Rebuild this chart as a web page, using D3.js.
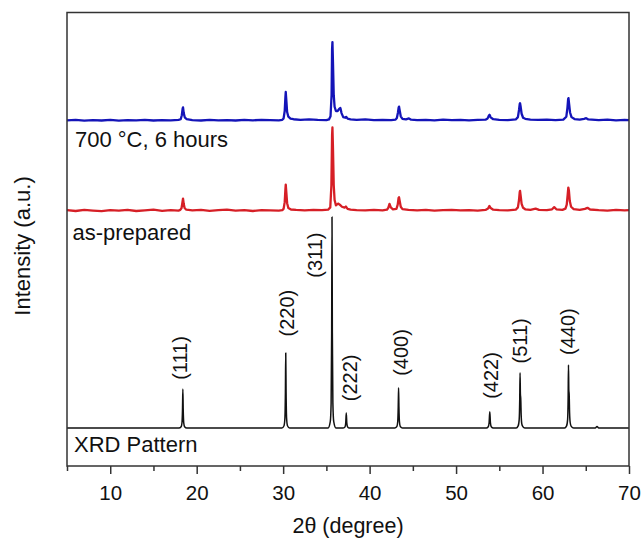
<!DOCTYPE html>
<html><head><meta charset="utf-8">
<script src="https://cdn.jsdelivr.net/npm/d3@7"></script>
<style>body{margin:0;background:#fff}text{font-family:"Liberation Sans",Arial,sans-serif;fill:#111}</style>
</head><body>
<svg id="c" width="641" height="538"></svg>
<script>
// ---- data (2θ in degree, intensity in relative units above each trace's own baseline) ----
const seriesNames = ["XRD Pattern", "as-prepared", "700 °C, 6 hours"];
const seriesColors = ["#111111", "#d61f26", "#1414b8"];
const offsets = [0, 103.1, 145.8];

const xrdPattern = [
 [5,0],[17.95,0],
 [18.2,0.6],[18.3,2.5],[18.36,9],[18.4,18.5],[18.44,9],[18.5,2.5],[18.6,0.6],[18.85,0],
 [29.85,0],
 [30.1,1.1],[30.2,4.5],[30.26,17],[30.3,35.6],[30.34,17],[30.4,4.5],[30.5,1.1],[30.75,0],
 [35.2,0],
 [35.45,3],[35.55,12],[35.61,45],[35.65,100],[35.69,45],[35.75,12],[35.85,3],[36.1,0],
 [36.9,0],
 [37.15,0.5],[37.24,2.5],[37.3,7.1],[37.36,2.5],[37.45,0.5],[37.6,0],
 [42.9,0],
 [43.15,0.7],[43.25,3],[43.31,10],[43.35,19.1],[43.39,10],[43.45,3],[43.55,0.7],[43.8,0],
 [53.5,0],
 [53.72,0.6],[53.82,2.5],[53.9,7.7],[53.97,2.6],[54.07,0.6],[54.3,0],
 [56.95,0],
 [57.18,1],[57.3,4],[57.36,13],[57.4,26.2],[57.44,16],[57.48,14],[57.53,6],[57.6,2],[57.72,0.7],[57.95,0],
 [62.55,0],
 [62.78,1],[62.9,4],[62.96,14],[63.0,29.9],[63.04,18],[63.08,16],[63.13,7],[63.2,2.5],[63.32,0.8],[63.6,0],
 [66.1,0],[66.3,0.7],[66.5,0],[70,0]
];

const asPrepared = [
 [5,0.2],[6,-0.2],[7,0.3],[8,0],[9,-0.3],[10,0.2],[11,0],[12,0.3],[13,-0.2],[14,0.1],[15,0.4],[16,-0.1],[17,0.2],[17.9,0],
 [18.1,0.3],[18.25,1.2],[18.35,3.8],[18.42,5.7],[18.5,3.2],[18.6,1.2],[18.8,0.4],
 [19.5,0.1],[20.5,0.3],[21.5,-0.1],[22.5,0.2],[23.5,0.4],[24.5,0],[25.5,0.2],[26.5,-0.2],[27.5,0.2],[28.5,0.1],[29.5,0],[29.9,0.2],
 [30.05,0.8],[30.18,4],[30.26,10],[30.3,12.3],[30.36,9],[30.46,3.5],[30.6,1.2],[30.9,0.5],
 [31.5,0.3],[32.5,0.1],[33.5,0.3],[34.5,0.2],[35.2,0.4],
 [35.45,1.5],[35.58,12],[35.66,36],[35.7,39.4],[35.76,30],[35.85,12],[35.95,5],[36.1,2.5],[36.35,3.3],[36.55,2.8],[36.8,1.8],[37.1,1.4],[37.25,1.9],[37.45,0.8],[37.8,0.4],
 [38.5,0.2],[39.5,0.1],[40.5,0.3],[41.5,0.1],[42.0,0.4],
 [42.15,1.2],[42.3,3.2],[42.45,1.5],[42.7,0.6],
 [43.1,0.8],[43.25,2.8],[43.35,6.0],[43.4,6.3],[43.48,4.5],[43.6,1.8],[43.8,0.7],
 [44.5,0.3],[45.5,0.1],[46.5,0.3],[47.5,0],[48.5,0.2],[49.5,0.3],[50.5,0.1],[51.5,0.2],[52.5,0],[53.4,0.3],
 [53.7,1.0],[53.85,2.2],[54.0,1.2],[54.3,0.4],
 [55,0.2],[56,0.1],[56.9,0.4],
 [57.15,1.5],[57.28,5],[57.36,8.8],[57.4,9.3],[57.47,7],[57.58,3.2],[57.75,1.3],[58.0,0.6],
 [58.6,0.3],[59.2,0.9],[59.6,0.3],[60.5,0.2],[61.1,0.6],[61.35,1.6],[61.6,0.6],[62.3,0.3],[62.65,0.9],
 [62.8,2.8],[62.92,8],[62.98,10.9],[63.05,9.5],[63.15,4.5],[63.3,1.8],[63.6,0.7],
 [64.3,0.3],[64.9,0.8],[65.2,1.3],[65.5,0.5],[66.5,0.2],[67.5,0],[68.5,0.3],[69.5,0.1],[70,0.2]
];

const annealed700 = [
 [5,0.1],[6,0.3],[7,-0.1],[8,0.2],[9,0],[10,0.3],[11,-0.1],[12,0.2],[13,0.1],[14,0.3],[15,0],[16,0.2],[17,0.1],[17.9,0.3],
 [18.15,0.6],[18.28,2.5],[18.37,5.5],[18.42,6.2],[18.5,3.5],[18.62,1.5],[18.85,0.6],
 [19.5,0.2],[20.5,0],[21.5,0.3],[22.5,0.1],[23.5,0.2],[24.5,0],[25.5,0.3],[26.5,0.1],[27.5,0.3],[28.5,0.2],[29.5,0.1],[29.9,0.3],
 [30.05,1],[30.18,4.5],[30.26,11],[30.3,13.5],[30.36,10],[30.46,4],[30.6,1.8],[30.85,0.9],[31.2,0.6],
 [32,0.3],[33,0.5],[34,0.3],[35,0.2],[35.3,0.5],
 [35.48,2],[35.6,12],[35.66,34],[35.7,37.2],[35.76,28],[35.85,12],[35.95,6.5],[36.1,4.5],[36.3,4.5],[36.5,5.6],[36.62,5.9],[36.75,3.5],[36.95,1.6],[37.2,1.3],[37.3,1.7],[37.45,0.9],[37.8,0.5],
 [38.5,0.3],[39.5,0.5],[40.5,0.2],[41.5,0.3],[42.5,0.2],[43.0,0.4],
 [43.15,1.2],[43.28,3.8],[43.36,6.2],[43.4,6.6],[43.48,4.8],[43.6,2],[43.8,0.8],[44.2,0.5],[44.55,1.0],[44.8,0.4],
 [45.5,0.2],[46.5,0.3],[47.5,0.1],[48.5,0.4],[49.5,0.2],[50.5,0.3],[51.5,0.1],[52.5,0.3],[53.4,0.4],
 [53.65,1.0],[53.8,2.4],[53.87,2.7],[54.0,1.5],[54.3,0.6],
 [55,0.3],[56,0.2],[56.9,0.5],
 [57.15,1.6],[57.28,5],[57.36,7.8],[57.4,8.2],[57.47,6.5],[57.58,3.2],[57.75,1.3],[58.0,0.8],
 [58.6,0.4],[59.5,0.3],[60.5,0.4],[61.5,0.2],[62.4,0.4],
 [62.75,1.8],[62.88,6],[62.96,10.2],[63.0,10.6],[63.07,8],[63.18,3.8],[63.35,1.6],[63.7,0.7],
 [64.3,0.4],[64.8,0.8],[65.05,1.1],[65.3,0.5],[66.5,0.2],[67.5,0.4],[68.5,0.1],[69.5,0.3],[70,0.2]
];

const hklLabels = ["(111)","(220)","(311)","(222)","(400)","(422)","(511)","(440)"];
const hklX = [18.1, 30.45, 33.7, 37.7, 43.6, 54.05, 57.4, 62.9];
const hklY = [33.2, 54.5, 82.0, 23.8, 35.8, 24.9, 41.3, 45.7];

const xTicks = [5,10,15,20,25,30,35,40,45,50,55,60,65,70];
const xTickLabels = ["10","20","30","40","50","60","70"];
const xDomain = [5, 70];
const yDomain = [-18, 197];

// ---- layout ----
const L = 67, R = 629, T = 12.5, B = 466;
const svg = d3.select("#c");
const x = d3.scaleLinear().domain(xDomain).range([L, R]);
const y = d3.scaleLinear().domain(yDomain).range([B, T]);

const traces = [xrdPattern, asPrepared, annealed700];
traces.forEach((data, i) => {
  const line = d3.line()
    .x(d => x(d[0]))
    .y(d => y(d[1] + offsets[i]))
    .curve(i === 0 ? d3.curveMonotoneX : d3.curveLinear);
  svg.append("path").datum(data)
    .attr("d", line)
    .attr("fill", "none")
    .attr("stroke", seriesColors[i])
    .attr("stroke-width", i === 0 ? 1.5 : 2.3)
    .attr("stroke-linejoin", "round");
});

// frame
svg.append("rect").attr("x", L).attr("y", T).attr("width", R - L).attr("height", B - T)
  .attr("fill", "none").attr("stroke", "#333").attr("stroke-width", 1.5);

// x axis
const xAxis = d3.axisBottom(x).tickValues(xTicks)
  .tickSize(0).tickFormat(d => xTickLabels.includes(String(d)) ? String(d) : "");
const gx = svg.append("g").attr("transform", `translate(0,${B})`).call(xAxis);
gx.select(".domain").remove();
gx.selectAll(".tick line").remove();
gx.selectAll(".tick").append("line")
  .attr("y1", 0).attr("y2", d => (d % 10 === 0 ? 8 : 5))
  .attr("stroke", "#333").attr("stroke-width", 1.5);
gx.selectAll(".tick text").attr("y", 19).attr("dy", "0.71em")
  .style("font-size", "20.5px").style("font-family", '"Liberation Sans",Arial,sans-serif').attr("fill", "#111");

// axis titles
svg.append("text").attr("x", (L + R) / 2).attr("y", 533).attr("text-anchor", "middle")
  .style("font-size", "21.5px").text("2θ (degree)");
svg.append("text").attr("transform", `translate(30,246) rotate(-90)`).attr("text-anchor", "middle")
  .style("font-size", "22px").text("Intensity (a.u.)");

// series annotations
const annot = [[74, 451.5], [72.5, 239.5], [75, 147.3]];
annot.forEach((p, i) => {
  svg.append("text").attr("x", p[0]).attr("y", p[1]).style("font-size", "22px").text(seriesNames[i]);
});

// hkl labels
hklLabels.forEach((t, i) => {
  svg.append("text")
    .attr("transform", `translate(${x(hklX[i])},${y(hklY[i])}) rotate(-90)`)
    .attr("text-anchor", "middle").attr("dy", "0.35em")
    .style("font-size", "20px").text(t);
});
</script>
</body></html>
